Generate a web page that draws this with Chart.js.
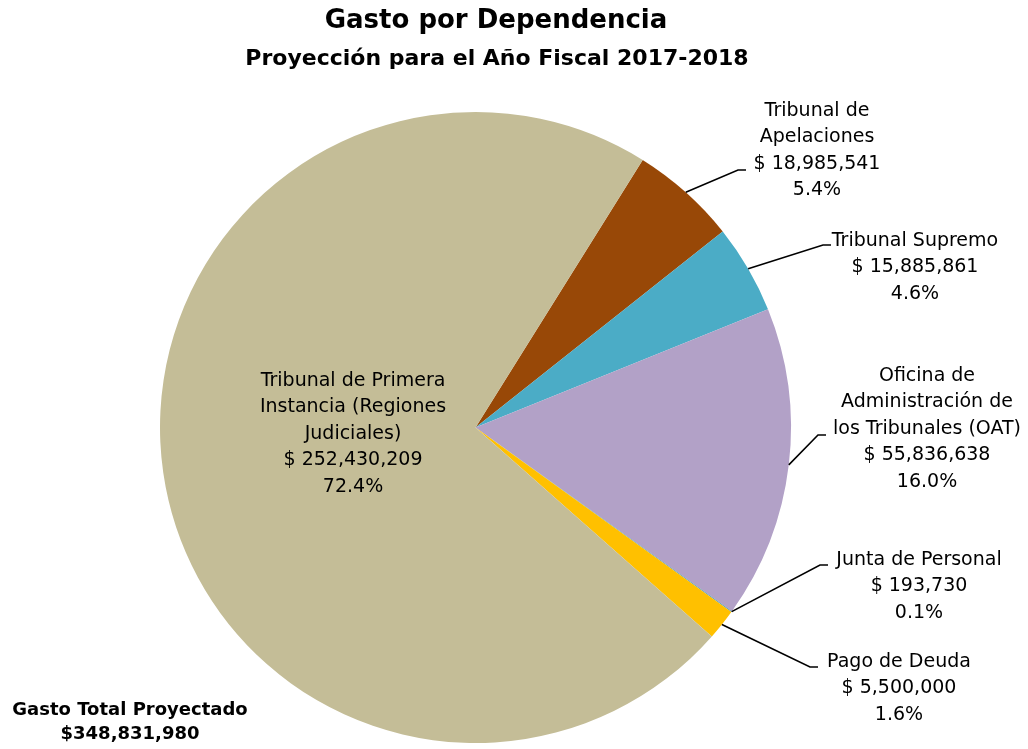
<!DOCTYPE html>
<html>
<head>
<meta charset="utf-8">
<title>Gasto por Dependencia</title>
<script src="https://cdn.jsdelivr.net/npm/chart.js@4/dist/chart.umd.min.js"></script>
<style>
    html, body { margin: 0; padding: 0; background: #ffffff; }
    #wrap { width: 1028px; height: 749px; }
</style>
</head>
<body>
<div id="wrap">
    <canvas id="gastoChart" width="1028" height="749"></canvas>
</div>
<script>
// dependencias (en orden de las manecillas del reloj, empezando por Apelaciones)
const dependencias = [
    'Tribunal de\nApelaciones',
    'Tribunal Supremo',
    'Oficina de\nAdministración de\nlos Tribunales (OAT)',
    'Junta de Personal',
    'Pago de Deuda',
    'Tribunal de Primera\nInstancia (Regiones\nJudiciales)'
];
const gastos = [18985541, 15885861, 55836638, 193730, 5500000, 252430209];
const colores = ['#984807', '#4BACC6', '#B2A1C7', '#5E9DB4', '#FFC000', '#C4BD97'];
const gastoTotal = 348831980;

const tituloPrincipal = 'Gasto por Dependencia';
const subtitulo = 'Proyección para el Año Fiscal 2017-2018';
const totalTitulo = 'Gasto Total Proyectado';

const FONT = '"DejaVu Sans", "Liberation Sans", sans-serif';

function formatoDinero(v) {
    return '$ ' + v.toLocaleString('en-US');
}

function formatoPct(v) {
    return (v / gastoTotal * 100).toFixed(1) + '%';
}

// posiciones de las etiquetas (codo de la línea guía y centro del texto)
const etiquetas = [
    { codo: [738, 170], cx: 817, y0: 111 },
    { codo: [823, 245], cx: 915, y0: 241 },
    { codo: [818, 435], cx: 927, y0: 376 },
    { codo: [820, 565], cx: 919, y0: 560 },
    { codo: [810, 667], cx: 899, y0: 662 },
    { codo: null, cx: 353, y0: 381 }
];

const etiquetasPlugin = {
    id: 'etiquetasPlugin',
    afterDraw(chart) {
        const ctx = chart.ctx;
        const meta = chart.getDatasetMeta(0);
        const lineH = 26.5;

        ctx.save();
        ctx.textAlign = 'center';
        ctx.textBaseline = 'middle';
        ctx.fillStyle = '#000000';

        // títulos
        ctx.font = 'bold 26px ' + FONT;
        ctx.fillText(tituloPrincipal, 496, 21);
        ctx.font = 'bold 22px ' + FONT;
        ctx.fillText(subtitulo, 497, 59);

        meta.data.forEach((arc, i) => {
            const p = arc.getProps(['x', 'y', 'startAngle', 'endAngle', 'outerRadius'], true);
            const mid = (p.startAngle + p.endAngle) / 2;
            const et = etiquetas[i];

            // línea guía
            if (et.codo) {
                const px = p.x + Math.cos(mid) * p.outerRadius;
                const py = p.y + Math.sin(mid) * p.outerRadius;
                ctx.beginPath();
                ctx.strokeStyle = '#000000';
                ctx.lineWidth = 1.6;
                ctx.moveTo(px, py);
                ctx.lineTo(et.codo[0], et.codo[1]);
                ctx.lineTo(et.codo[0] + 8, et.codo[1]);
                ctx.stroke();
            }

            const lineas = dependencias[i].split('\n');
            lineas.push(formatoDinero(gastos[i]));
            lineas.push(formatoPct(gastos[i]));

            ctx.font = '19px ' + FONT;
            lineas.forEach((t, k) => {
                ctx.fillText(t, et.cx, et.y0 + k * lineH);
            });
        });

        // total proyectado
        ctx.font = 'bold 18px ' + FONT;
        ctx.fillText(totalTitulo, 130, 710);
        ctx.fillText('$' + gastoTotal.toLocaleString('en-US'), 130, 734);

        ctx.restore();
    }
};

const ctx = document.getElementById('gastoChart').getContext('2d');
new Chart(ctx, {
    type: 'pie',
    data: {
        labels: dependencias,
        datasets: [{
            data: gastos,
            backgroundColor: colores,
            borderWidth: 0,
            offset: 0,
            hoverOffset: 0
        }]
    },
    options: {
        responsive: false,
        devicePixelRatio: 1,
        animation: false,
        rotation: 32,
        layout: {
            padding: { left: 160, top: 112, right: 237, bottom: 6 }
        },
        plugins: {
            legend: { display: false },
            tooltip: { enabled: false },
            title: { display: false }
        }
    },
    plugins: [etiquetasPlugin]
});
</script>
</body>
</html>
